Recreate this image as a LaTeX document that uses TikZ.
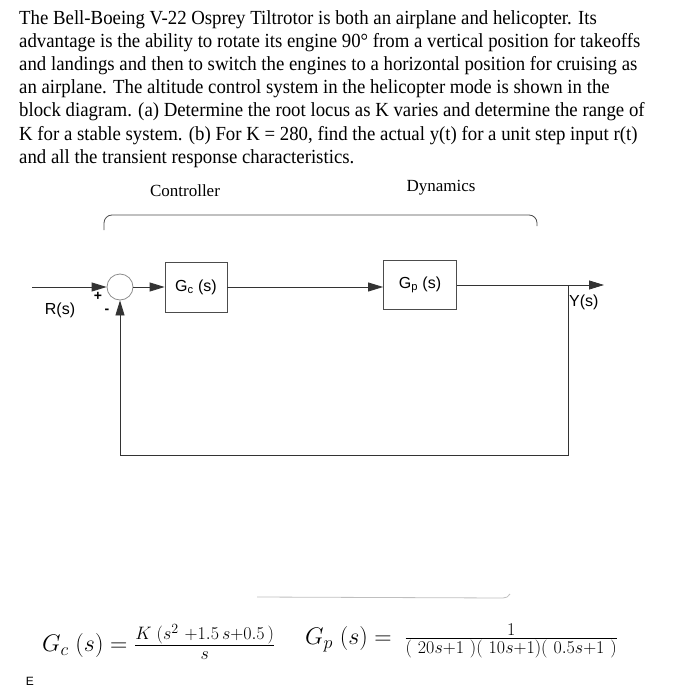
\RequirePackage{fix-cm}
\documentclass[tikz,border=0pt]{standalone}
\usepackage{amsmath}
\usepackage{fontspec}
\setmainfont{Liberation Serif}
\newfontfamily\probfont[FakeStretch=0.94]{Liberation Serif}
\newfontfamily\blkfont{Liberation Sans}
\DeclareMathSizes{24}{24}{18}{14}
\usepackage{tikz}
\usetikzlibrary{positioning,arrows.meta,calc}
\tikzset{
  >={Triangle[length=15pt,width=9pt]},
  sigline/.style={line width=0.8pt,black!80},
  sig/.style={->,sigline},
  blockbox/.style={draw=black!70,line width=0.8pt,minimum width=62pt,
    minimum height=50pt,font=\blkfont\fontsize{16}{18}\selectfont,inner sep=2pt},
  sumnode/.style={circle,draw=black!45,line width=0.8pt,minimum size=26pt,inner sep=0pt},
  sglbl/.style={font=\blkfont\fontsize{16}{18}\selectfont,inner sep=1pt},
  signlbl/.style={font=\blkfont\bfseries\fontsize{14}{14}\selectfont,inner sep=0pt},
  grplbl/.style={font=\fontsize{17}{19}\selectfont,inner sep=0pt},
  grpline/.style={line width=0.8pt,black!70,rounded corners=8pt},
  eqn/.style={font=\fontsize{24}{28}\selectfont,inner sep=0pt,anchor=west},
}

\begin{document}
\begin{tikzpicture}[x=1pt,y=-1pt]
  \useasboundingbox (0,0) rectangle (693,695);
  \node[anchor=north west,inner sep=0pt,align=left,
        font=\probfont\fontsize{20}{23.2}\selectfont] (prob) at (19,10)
    {The Bell-Boeing V-22 Osprey Tiltrotor is both an airplane and helicopter. Its\\
     advantage is the ability to rotate its engine 90\textdegree{} from a vertical position for takeoffs\\
     and landings and then to switch the engines to a horizontal position for cruising as\\
     an airplane. The altitude control system in the helicopter mode is shown in the\\
     block diagram. (a) Determine the root locus as K varies and determine the range of\\
     K for a stable system. (b) For K = 280, find the actual y(t) for a unit step input r(t)\\
     and all the transient response characteristics.};

  \node[grplbl] (ctrl) at (185,191) {Controller};
  \node[grplbl] (dyn) at (441,188) {Dynamics};
  \draw[grpline] (104,230) -- (104,215) -- (537,215) -- (537,226);

  \node[sumnode] (sum) at (120,287) {};
  \node[blockbox] (gc) at (196,287) {G\textsubscript{c} (s)};
  \node[blockbox,minimum width=73pt,minimum height=49pt] (gp) at (420,285) {G\textsubscript{p} (s)};
  \coordinate (in) at (32,287);
  \coordinate (ybr) at (568,285);
  \coordinate (out) at (604,285);
  \coordinate (fb) at (120,455);

  \draw[sig] (in) -- (sum);
  \draw[sig] (sum) -- (gc);
  \draw[sig] (gc) -- (gc -| gp.west);
  \draw[sig] (gp) -- (out);
  \draw[sig] (ybr) |- (fb) -- (sum);

  \node[sglbl] (rs) at (60,310) {R(s)};
  \node[sglbl,anchor=west] (ys) at (568,302) {Y(s)};
  \node[signlbl] (plus) at (98,296) {+};
  \node[signlbl] (minus) at (107,311) {-};

  \draw[black!25,line width=0.8pt] (257,597) -- (503,598) to[bend right=30] (510,594);

  \node[eqn] (eqc) at (42,642)
    {$G_c\;(s) = \frac{K\;(s^2\ +1.5\,s{+}0.5\,)}{s}$};
  \node[eqn] (eqp) at (305,641)
    {$G_p\;(s) = \ \frac{1}{(\ 20s{+}1\ )(\ 10s{+}1)(\ 0.5s{+}1\ )}$};
  \node[font=\blkfont\fontsize{12}{12}\selectfont,inner sep=0pt] (e) at (30,681) {E};
\end{tikzpicture}
\end{document}
